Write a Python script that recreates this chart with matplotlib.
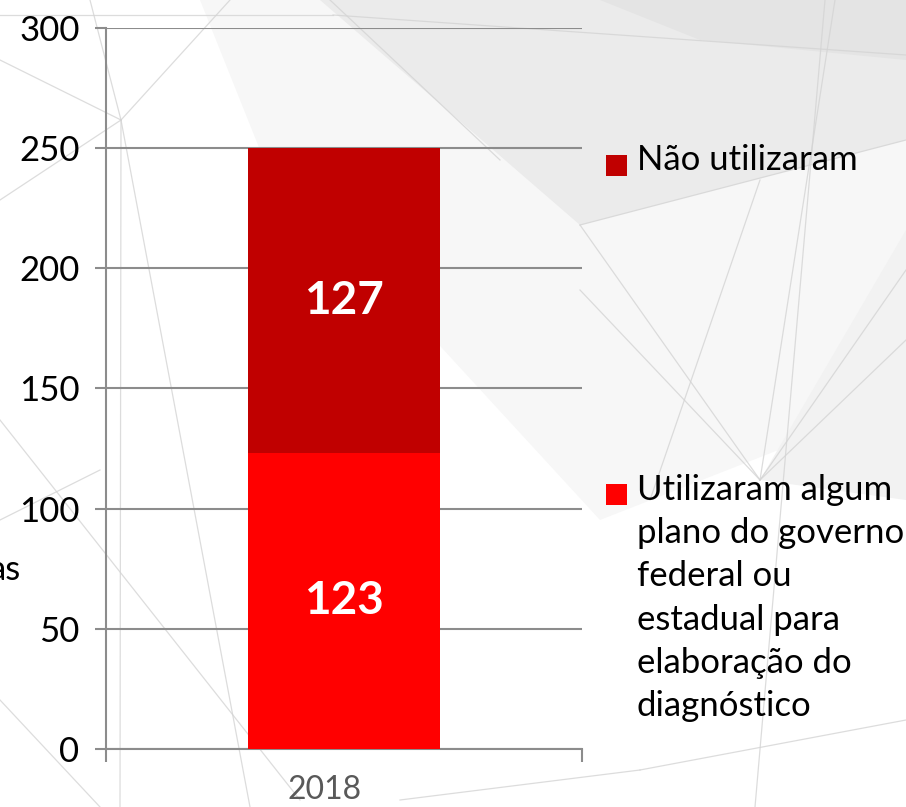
import matplotlib.pyplot as plt
import matplotlib.transforms as mtransforms
from matplotlib.patches import Polygon, Rectangle

# chart data
categories = ["2018"]
used_plan = [123]
not_used = [127]
series_labels = ["Não utilizaram",
                 "Utilizaram algum\nplano do governo\nfederal ou\nestadual para\nelaboração do\ndiagnóstico"]
series_colors = ["#C00000", "#FF0000"]
y_ticks = [0, 50, 100, 150, 200, 250, 300]

plt.rcParams['font.family'] = ['Lato', 'DejaVu Sans']

W, H = 906, 807
fig = plt.figure(figsize=(W / 100, H / 100), dpi=100)
fig.patch.set_facecolor("white")

# decorative background (pixel coords, y down)
bg = fig.add_axes([0, 0, 1, 1], zorder=-10)
bg.set_xlim(0, W)
bg.set_ylim(H, 0)
bg.axis("off")
shapes = [
    ([(200, 0), (906, 0), (906, 400), (600, 520), (260, 150)], "#f7f7f7"),
    ([(320, 0), (906, 0), (906, 140), (580, 225)], "#ebebeb"),
    ([(600, 0), (906, 0), (906, 60), (700, 40)], "#e4e4e4"),
    ([(760, 480), (906, 230), (906, 500)], "#f2f2f2"),
]
for pts, c in shapes:
    bg.add_patch(Polygon(pts, closed=True, facecolor=c, edgecolor="none"))
lines = [
    ((0, 15), (333, 15)), ((333, 15), (906, 55)),
    ((580, 225), (760, 480)), ((580, 290), (760, 480)),
    ((760, 480), (906, 270)), ((760, 480), (906, 340)),
    ((760, 480), (835, 0)), ((755, 807), (825, 0)),
    ((650, 500), (760, 180)), ((580, 225), (906, 140)),
    ((0, 60), (121, 120)), ((121, 120), (230, 0)),
    ((121, 120), (120, 807)), ((121, 120), (0, 200)),
    ((90, 0), (121, 120)), ((121, 120), (250, 807)),
    ((0, 420), (300, 800)), ((0, 700), (100, 807)),
    ((400, 800), (640, 770)), ((640, 770), (906, 720)),
    ((330, 0), (500, 160)), ((0, 520), (100, 470)),
]
for (x0, y0), (x1, y1) in lines:
    bg.plot([x0, x1], [y0, y1], color="#d4d4d4", lw=0.9, alpha=0.8)

ax = fig.add_axes([106 / W, 1 - 749 / H, (582 - 106) / W, (749 - 28) / H])
ax.patch.set_alpha(0)

x = list(range(len(categories)))
b1 = ax.bar(x, used_plan, width=0.403, color=series_colors[1], zorder=3)
b2 = ax.bar(x, not_used, width=0.403, bottom=used_plan, color=series_colors[0], zorder=3)

for rect, v in zip(b1, used_plan):
    ax.text(rect.get_x() + rect.get_width() / 2, rect.get_y() + v / 2, str(v),
            ha="center", va="center", color="white", fontsize=33, fontweight="bold", zorder=4)
for rect, v, base in zip(b2, not_used, used_plan):
    ax.text(rect.get_x() + rect.get_width() / 2, base + v / 2, str(v),
            ha="center", va="center", color="white", fontsize=33, fontweight="bold", zorder=4)

ax.set_xlim(-0.5, len(categories) - 0.5)
ax.set_ylim(0, 300)
ax.set_yticks(y_ticks)
ax.tick_params(axis="y", length=8, width=1.5, color="#8c8c8c", labelsize=25, pad=11)
ax.yaxis.grid(True, color="#8c8c8c", lw=1.5, zorder=0)
ax.set_xticks(x)
ax.set_xticklabels(categories)
ax.tick_params(axis="x", which="major", length=0, labelsize=23, labelcolor="#595959", pad=19)
shift = mtransforms.ScaledTranslation(-19 / 100, 0, fig.dpi_scale_trans)
for lbl in ax.get_xticklabels():
    lbl.set_transform(lbl.get_transform() + shift)
ax.set_xticks([-0.5, len(categories) - 0.5], minor=True)
ax.tick_params(axis="x", which="minor", length=9, width=1.5, color="#8c8c8c")
for s in ["top", "right"]:
    ax.spines[s].set_visible(False)
for s in ["left", "bottom"]:
    ax.spines[s].set_color("#8c8c8c")
    ax.spines[s].set_linewidth(1.5)

# legend drawn as squares + text in figure pixels
legend_rows = [(165, series_labels[0], series_colors[0]), (495, series_labels[1], series_colors[1])]
for yc, lab, col in legend_rows:
    fig.patches.append(Rectangle((606 / W, 1 - (yc + 10.5) / H), 21 / W, 21 / H,
                                 transform=fig.transFigure, facecolor=col, edgecolor="none"))
    fig.text(637 / W, 1 - (yc - 21) / H, lab, fontsize=25, va="top", ha="left",
             linespacing=1.43, color="black")

# partially visible label at the left edge
fig.text(21 / W, 1 - 570 / H, "as", fontsize=25, ha="right", va="center", color="black")

fig.savefig("out.png", dpi=100)
